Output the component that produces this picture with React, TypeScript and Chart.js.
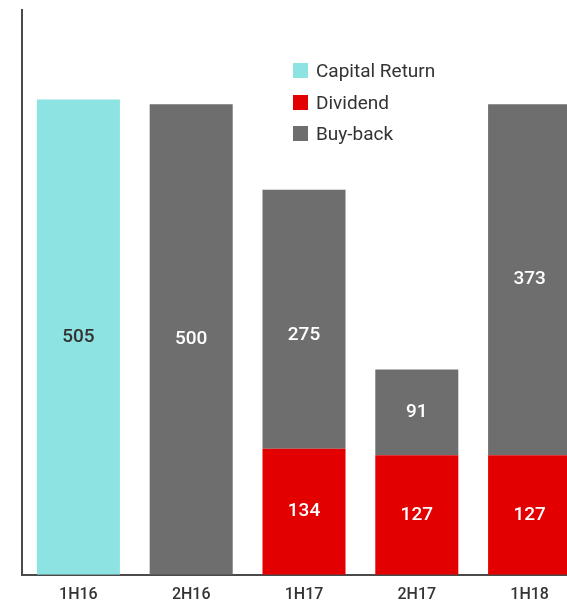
import React, { useEffect, useRef } from "react";
import { Chart, registerables } from "chart.js";

Chart.register(...registerables);

const categories = ["1H16", "2H16", "1H17", "2H17", "1H18"];
const capitalReturn = [505, null, null, null, null];
const dividend = [null, null, 134, 127, 127];
const buyBack = [null, 500, 275, 91, 373];
const seriesNames = ["Capital Return", "Dividend", "Buy-back"];
const seriesColors = ["#8de3e1", "#e30000", "#6e6e6e"];
const labelColors = ["#333333", "#ffffff", "#ffffff"];
const yMax = 600;

const FONT = "Roboto, 'DejaVu Sans', sans-serif";

// label nudges (dataset:index -> px), as placed in the reference artwork
const labelNudge: Record<string, number> = { "2:2": 16 };

const dataLabelPlugin = {
  id: "dataLabels",
  afterDatasetsDraw(chart: any) {
    const ctx = chart.ctx;
    ctx.save();
    ctx.font = `500 19px ${FONT}`;
    ctx.textAlign = "center";
    ctx.textBaseline = "middle";
    chart.data.datasets.forEach((ds: any, i: number) => {
      const meta = chart.getDatasetMeta(i);
      meta.data.forEach((el: any, j: number) => {
        const v = ds.data[j];
        if (v === null || v === undefined) return;
        ctx.fillStyle = labelColors[i];
        const nudge = labelNudge[`${i}:${j}`] || 0;
        ctx.fillText(String(v), el.x, (el.y + el.base) / 2 + nudge);
      });
    });
    ctx.restore();
  },
};

export default function App() {
  const ref = useRef<HTMLCanvasElement | null>(null);

  useEffect(() => {
    if (!ref.current) return;
    const chart = new Chart(ref.current, {
      type: "bar",
      data: {
        labels: categories,
        datasets: [
          { label: seriesNames[0], data: capitalReturn, backgroundColor: seriesColors[0] },
          { label: seriesNames[1], data: dividend, backgroundColor: seriesColors[1] },
          { label: seriesNames[2], data: buyBack, backgroundColor: seriesColors[2] },
        ],
      },
      options: {
        animation: false,
        responsive: false,
        maintainAspectRatio: false,
        datasets: { bar: { categoryPercentage: 1, barPercentage: 0.736 } },
        layout: { padding: { left: 22, right: 4, top: 10, bottom: 0 } },
        plugins: {
          legend: { display: false },
          tooltip: { enabled: false },
        },
        scales: {
          x: {
            stacked: true,
            grid: { display: false, drawTicks: false },
            border: { display: true, color: "#4a4a4a", width: 2 },
            ticks: {
              color: "#333333",
              padding: 11,
              font: { family: FONT, size: 16, weight: "500" as any },
            },
          },
          y: {
            stacked: true,
            min: 0,
            max: yMax,
            grid: { display: false, drawTicks: false },
            border: { display: true, color: "#4a4a4a", width: 2 },
            ticks: { display: false },
          },
        },
      } as any,
      plugins: [dataLabelPlugin],
    });
    return () => chart.destroy();
  }, []);

  return (
    <div
      style={{
        position: "fixed",
        left: 0,
        top: 0,
        width: 567,
        height: 600,
        overflow: "hidden",
        background: "#ffffff",
      }}
    >
      <canvas ref={ref} width={590} height={616} style={{ width: 590, height: 616, display: "block" }} />
      <div style={{ position: "absolute", left: 293, top: 55, fontFamily: FONT, fontSize: 19, color: "#333333" }}>
        {seriesNames.map((n, i) => (
          <div key={n} style={{ display: "flex", alignItems: "center", height: 31.5 }}>
            <span style={{ display: "inline-block", width: 15, height: 15, background: seriesColors[i], marginRight: 8 }} />
            <span>{n}</span>
          </div>
        ))}
      </div>
    </div>
  );
}
